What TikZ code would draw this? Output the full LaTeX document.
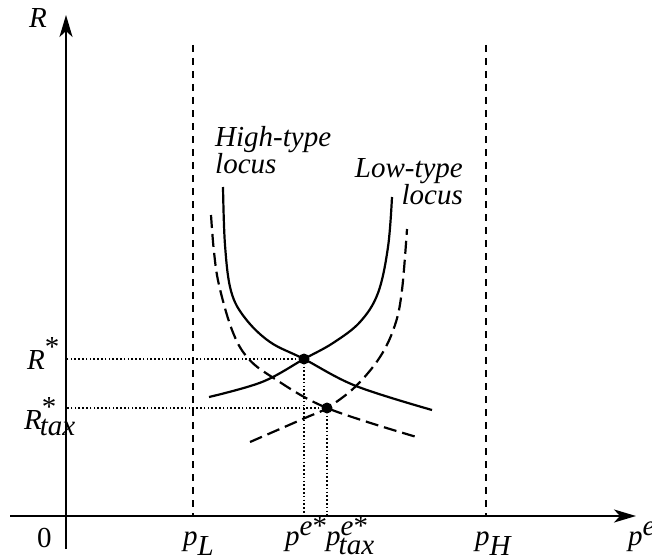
\documentclass[tikz,border=0pt]{standalone}
\usepackage{fontspec}
\setmainfont{Liberation Serif}
\DeclareMathSizes{29}{29}{18}{13}
\usepackage{tikz}
\usetikzlibrary{
  arrows.meta,
  positioning
}
\tikzset{
    axisline/.style={line width=2.2pt, -{Stealth[length=22pt, width=13pt, inset=6pt]}},
    lbl/.style={inner sep=0pt, font=\fontsize{29}{27}\selectfont\itshape},
    locus/.style={line width=2.2pt},
    locustax/.style={line width=2.2pt, dash pattern=on 13pt off 6pt},
    bound/.style={line width=1.9pt, dash pattern=on 7pt off 6pt},
    guide/.style={line width=1.9pt, dash pattern=on 1.6pt off 2.2pt},
    dot/.style={circle, fill=black, inner sep=0pt, minimum size=11pt}
}

\begin{document}
\begin{tikzpicture}[x=1pt, y=-1pt]
    \useasboundingbox (0,0) rectangle (652,559);

    \coordinate (O) at (66,516);
    \coordinate (xstart) at (10,516);
    \coordinate (xend) at (636,516);
    \coordinate (ystart) at (66,549);
    \coordinate (yend) at (66,15);
    \coordinate (pLtop) at (193,45);
    \coordinate (pHtop) at (486,45);

    \draw[axisline] (xstart) -- (xend);
    \draw[axisline] (ystart) -- (yend);

    \draw[bound] (pLtop) -- (pLtop |- O);
    \draw[bound] (pHtop) -- (pHtop |- O);

    \draw[locus] plot[smooth, tension=0.6] coordinates {(223,187) (225,245) (231,291) (245,318) (270,342) (304,359) (356,386) (432,410)};
    \draw[locus] plot[smooth, tension=0.6] coordinates {(209,397) (262,382) (304,359) (333,343) (360,322) (378,293) (388,247) (392,197)};
    \draw[locustax] plot[smooth, tension=0.6] coordinates {(211,215) (214,252) (219,285) (232,330) (247,357) (272,377) (327,408) (420,438)};
    \draw[locustax] plot[smooth, tension=0.6] coordinates {(250,442) (305,418) (327,408) (355,387) (380,357) (395,325) (402,290) (407,229)};

    \node[dot] (eq) at (304,359) {};
    \node[dot] (eqtax) at (327,408) {};

    \draw[guide] (eq.center) -- (eq.center -| O);
    \draw[guide] (eqtax.center) -- (eqtax.center -| O);
    \draw[guide] (eq.center) -- (eq.center |- O);
    \draw[guide] (eqtax.center) -- (eqtax.center |- O);

    \node[lbl, anchor=base west] (Rlab) at (29,28) {R};
    \node[lbl, anchor=base west] (zero) at (37,547) {\upshape 0};
    \node[lbl, anchor=base west] (Rstar) at (27,369) {$\textit{R}^{\textup{*}}$};
    \node[lbl, anchor=base west] (Rtax) at (24,429) {$\textit{R}^{\textup{*}}_{\hspace{-2pt}\textit{tax}}$};
    \node[lbl, anchor=base west] (pL) at (183,545) {$\textit{p}_{\textit{L}}$};
    \node[lbl, anchor=base west] (pstar) at (285,545) {$\textit{p}^{\textit{e}\textup{*}}$};
    \node[lbl, anchor=base west] (ptax) at (326,545) {$\textit{p}^{\textit{e}\textup{*}}_{\hspace{-2pt}\textit{tax}}$};
    \node[lbl, anchor=base west] (pH) at (475,545) {$\textit{p}_{\textit{H}}$};
    \node[lbl, anchor=base west] (pe) at (628,545) {$\textit{p}^{\textit{e}}$};
    \node[lbl, anchor=base west, align=left] (high) at (215,173) {High-type\\locus};
    \node[lbl, anchor=base east, align=right] (low) at (463,204) {Low-type\\locus};
\end{tikzpicture}
\end{document}
